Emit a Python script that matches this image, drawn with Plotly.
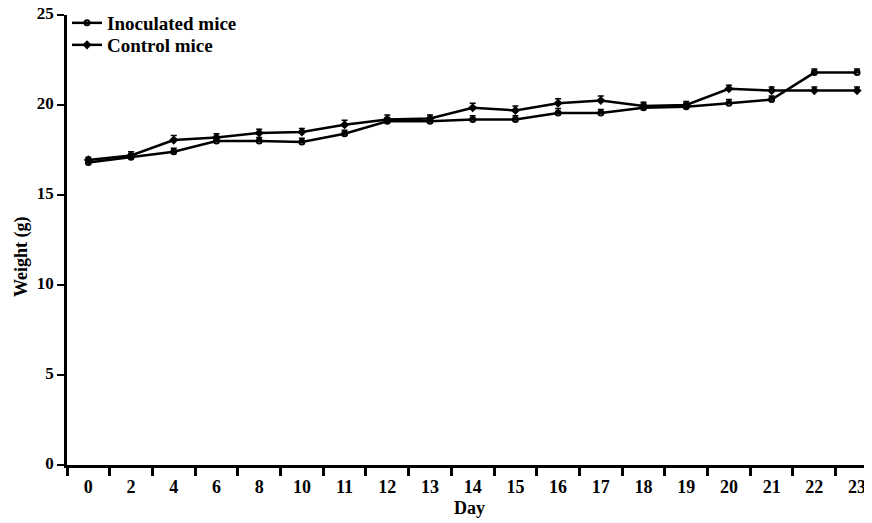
import plotly.graph_objects as go

days = ["0", "2", "4", "6", "8", "10", "11", "12", "13", "14", "15", "16", "17",
        "18", "19", "20", "21", "22", "23"]
inoculated = [16.8, 17.1, 17.4, 18.0, 18.0, 17.95, 18.4, 19.1, 19.1, 19.2, 19.2,
              19.55, 19.55, 19.85, 19.9, 20.1, 20.3, 21.8, 21.8]
inoculated_err = [0.15, 0.2, 0.2, 0.2, 0.2, 0.2, 0.2, 0.2, 0.2, 0.2, 0.2,
                  0.25, 0.2, 0.2, 0.2, 0.2, 0.2, 0.2, 0.2]
control = [16.95, 17.2, 18.05, 18.2, 18.45, 18.5, 18.9, 19.2, 19.25, 19.85, 19.7,
           20.1, 20.25, 19.95, 20.0, 20.9, 20.8, 20.8, 20.8]
control_err = [0.15, 0.2, 0.25, 0.2, 0.2, 0.2, 0.25, 0.25, 0.2, 0.25, 0.25,
               0.25, 0.25, 0.2, 0.2, 0.2, 0.2, 0.2, 0.2]

font_family = "Liberation Serif"

fig = go.Figure()
fig.add_trace(go.Scatter(
    x=days, y=inoculated, name="Inoculated mice", mode="lines+markers",
    line=dict(color="black", width=2.5),
    marker=dict(symbol="circle-open", size=5, color="black", line=dict(width=2)),
    error_y=dict(type="data", symmetric=False, array=inoculated_err,
                 arrayminus=[0] * len(inoculated_err), color="black",
                 thickness=1.5, width=3),
    legend="legend",
))
fig.add_trace(go.Scatter(
    x=days, y=control, name="Control mice", mode="lines+markers",
    line=dict(color="black", width=2.5),
    marker=dict(symbol="diamond", size=7, color="black"),
    error_y=dict(type="data", symmetric=False, array=control_err,
                 arrayminus=[0] * len(control_err), color="black",
                 thickness=1.5, width=3),
    legend="legend2",
))

legend_style = dict(xanchor="left", yanchor="middle", bgcolor="rgba(0,0,0,0)",
                    font=dict(size=19, family=font_family, weight="bold"),
                    itemwidth=30, x=0.0)

# page body has an 8px margin; figure is sized/positioned to compensate
fig.update_layout(
    width=864, height=515,
    margin=dict(l=59, r=0, t=7, b=58, autoexpand=False),
    paper_bgcolor="white", plot_bgcolor="white",
    font=dict(family=font_family, color="black", size=18),
    showlegend=True,
    legend=dict(legend_style, y=(465 - 23) / 450),
    legend2=dict(legend_style, y=(465 - 45) / 450),
    xaxis=dict(
        type="category", range=[-0.5, 18.35], automargin=False,
        showline=True, linecolor="black", linewidth=2.5,
        ticks="outside", ticklen=8, tickwidth=2.5, tickcolor="black",
        tickson="boundaries", showgrid=False, zeroline=False,
        ticklabelstandoff=4, ticklabeloverflow="allow",
        tickfont=dict(family=font_family, size=18, weight="bold"),
        title=dict(text="Day", font=dict(family=font_family, size=18, weight="bold"),
                   standoff=6),
    ),
    yaxis=dict(
        range=[0, 25], dtick=5, tick0=0, automargin=False,
        showline=True, linecolor="black", linewidth=2.5,
        ticks="outside", ticklen=7, tickwidth=2, tickcolor="black",
        showgrid=False, zeroline=False, ticklabeloverflow="allow",
        ticklabelshift=-2,
        tickfont=dict(family=font_family, size=17, weight="bold"),
    ),
    annotations=[dict(
        text="Weight (g)", textangle=-90, showarrow=False,
        xref="paper", yref="paper", x=-46 / 805, y=(465 - 257) / 450,
        xanchor="center", yanchor="middle",
        font=dict(family=font_family, size=18, weight="bold"),
    )],
)

fig.write_html("out.html")
